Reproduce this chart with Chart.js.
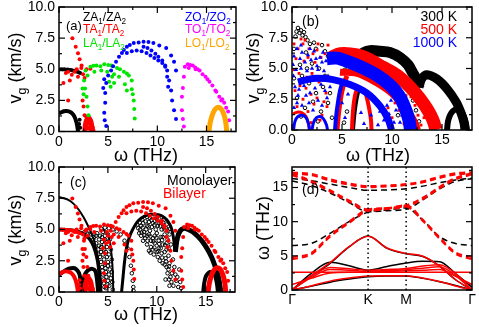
<!DOCTYPE html>
<html><head><meta charset="utf-8">
<script src="https://cdn.jsdelivr.net/npm/chart.js@4"></script>
<style>
html,body{margin:0;padding:0;background:#fff;}
#wrap{position:relative;width:479px;height:327px;overflow:hidden;background:#fff;}
canvas{position:absolute;}
</style></head><body>
<div id="wrap">
<canvas id="ca" width="240" height="170" style="left:0;top:0;width:240px;height:170px"></canvas>
<canvas id="cb" width="239" height="170" style="left:240px;top:0;width:239px;height:170px"></canvas>
<canvas id="cc" width="240" height="167" style="left:0;top:160px;width:240px;height:167px"></canvas>
<canvas id="cd" width="239" height="167" style="left:240px;top:160px;width:239px;height:167px"></canvas>
</div>
<script>
const FONT='"Liberation Sans", Arial, Helvetica, sans-serif';
// ---- tick values / labels ----
const omegaTicks=[0,5,10,15], omegaMinor=[2.5,7.5,12.5,17.5];
const vgTicks=[0,2.5,5,7.5,10], vgMinor=[1.25,3.75,6.25,8.75];
const dispTicks=[0,5,10,15], dispMinor=[2.5,7.5,12.5,17.5];
const kPos=[0,1,1.5,2.366], kLabels=['Γ','K','M','Γ'];
const kPath=[0,0.25,0.5,0.75,1,1.25,1.5,1.72,1.94,2.15,2.366];

// ---- panel (a): bilayer group velocities [omega THz, vg km/s] ----
const zaDome=[[0,1.45],[0.25,1.55],[0.5,1.63],[0.75,1.65],[1.0,1.62],[1.25,1.52],[1.45,1.35],[1.62,1.1],[1.75,0.8],[1.85,0.45],[1.92,0.1],[1.94,0]];
const zaPts=[[0.05,4.98],[0.22,5.0],[0.38,4.97],[0.55,4.99],[0.72,4.96],[0.88,4.97],[1.05,4.93],[1.22,4.94],[1.38,4.9],[1.55,4.88],[1.7,4.84],[1.85,4.8],[2.0,4.75],[2.15,4.7],[2.05,0.6],[2.15,0.3],[2.1,0.95]];
const taPts=[[1.36,7.48],[1.7,6.8],[1.93,6.28],[2.1,5.8],[2.3,5.3],[0.93,4.8],[1.6,4.8],[2.27,5.1],[1.1,4.1],[1.93,4.4],[0.45,3.9],[0.93,2.5],[2.8,5.0],[3.2,5.05],[2.45,4.6],[1.3,4.55],[2.6,4.3],[2.4,2.5],[2.5,2.0],[2.6,1.3],[0.7,4.7],[1.8,5.0]];
const taBlob=[[2.62,0],[2.68,0.5],[2.78,0.85],[2.92,1.05],[3.08,1.05],[3.22,0.85],[3.32,0.5],[3.38,0]];
const taBlobPts=[[2.7,0.2],[2.85,0.35],[3.0,0.25],[3.15,0.4],[3.3,0.15],[2.9,0.65],[3.05,0.7],[3.2,0.2],[3.45,0.3],[3.5,0.1],[2.75,1.2],[3.0,1.25]];
const laPts=[[2.7,4.9],[3.2,5.2],[3.8,5.3],[4.6,5.4],[5.3,5.3],[5.9,5.1],[6.6,4.8],[7.1,4.5],[7.4,4.1],[4.2,5.25],[3.5,5.28],[5.0,5.35],[6.2,5.0],[6.9,4.65],
 [2.9,4.5],[3.6,4.8],[4.3,4.9],[4.9,4.8],[5.6,4.6],[6.1,4.4],[6.7,3.8],[6.9,3.3],
 [7.4,3.4],[7.6,2.5],[7.7,1.05],[7.5,3.0],[7.65,1.8],
 [2.55,4.1],[2.65,3.45],[2.8,2.8],[2.9,2.0],[3.0,1.3],[2.4,3.45],[2.5,3.0],
 [5.4,4.4],[5.6,3.9],[5.25,3.6],[5.1,4.0]];
const zoPts=[[5.3,4.9],[5.8,5.6],[6.4,6.3],[6.9,6.8],[7.6,7.1],[8.1,7.15],[8.6,7.2],[9.1,7.18],[9.6,7.1],[10.2,6.9],[10.9,6.7],[11.4,6.1],[11.7,5.6],[11.9,4.9],[6.1,6.0],[6.6,6.55],[7.2,6.95],[5.5,5.25],
 [6.9,6.3],[7.4,6.45],[7.9,6.5],[8.4,6.45],[8.9,6.3],[9.3,6.1],[9.7,5.9],[10.1,5.7],[10.5,5.5],[10.8,5.2],[11.0,4.9],[11.2,4.1],[11.4,3.3],[11.5,2.5],[11.7,1.7],[11.9,1.0],
 [8.6,6.8],[9.0,6.7],[9.4,6.5],[9.8,6.25],[10.1,6.0],[10.5,5.7],[10.8,5.3],[11.0,4.4],[11.1,3.6],
 [4.8,3.9],[4.7,3.1],[4.7,2.3],[4.6,1.5],[4.8,0.45],[5.0,4.5],[4.6,4.2],[4.5,3.5],[4.65,0.9]];
const toPts=[[12.6,3.5],[12.7,4.4],[12.8,5.2],[13.1,5.4],[13.6,5.3],[14.3,4.9],[14.9,4.4],[15.6,3.7],[16.3,2.8],[16.8,2.3],[17.2,1.6],[17.3,0.9],
 [12.5,2.8],[12.5,1.7],[12.6,1.0],[12.7,0.4],
 [13.2,5.1],[13.9,5.0],[14.6,4.6],[15.3,4.0],[16.0,3.2],[16.6,2.6],[17.0,1.9],
 [13.35,5.35],[13.85,5.15],[14.1,5.0],[15.1,4.2],[15.9,3.3],[16.5,2.5]];
const loDome=[[15.25,0],[15.35,0.6],[15.5,1.1],[15.7,1.55],[15.95,1.85],[16.2,1.95],[16.45,1.85],[16.65,1.6],[16.85,1.15],[16.98,0.6],[17.05,0]];

// ---- panel (b): temperature dependent group velocities ----
const k1000Band1=[[3.5,5.8],[4.5,5.85],[5.8,5.5],[7.1,5.05],[8.5,4.45],[9.8,3.65],[10.7,2.8],[11.3,1.8],[11.7,0.8],[11.85,0]];
const k1000Band2=[[0.6,3.9],[1.5,4.1],[2.5,4.2],[4.1,4.1],[5.8,3.7],[7.5,3.0],[8.8,1.95],[9.6,0.9],[9.95,0]];
const k1000Low1=[[0.15,0],[0.3,0.7],[0.6,1.1],[1.0,1.2],[1.4,1.0],[1.65,0.5],[1.75,0]];
const k1000Low2=[[2.0,0],[2.15,0.6],[2.45,1.0],[2.8,1.1],[3.15,0.9],[3.45,0.4],[3.55,0]];
const k1000Leg=[[4.3,0],[4.4,1.0],[4.55,2.0],[4.75,3.0],[5.0,3.8]];
const k1000Pts=[[0.2,6.0],[0.5,6.6],[0.8,5.8],[1.0,6.3],[1.3,5.5],[1.6,6.1],[1.9,5.7],[2.2,6.4],[2.5,5.2],[2.8,5.9],[3.1,6.3],[3.4,5.6],[0.4,4.9],[0.9,5.0],[1.5,4.8],[2.0,5.0],[2.6,4.9],[3.2,4.8],[0.3,3.5],[0.6,2.8],[1.2,3.6],[1.8,3.0],[2.3,3.4],[2.9,3.7],[3.5,2.6],[0.2,1.8],[0.5,2.2],[3.0,2.0],[3.8,3.5],[8.8,1.5],[9.2,0.8],[9.5,2.0],[10.4,1.6],[10.8,0.6],[9.9,2.4],[7.9,1.2],[8.3,2.5],
 [0.15,4.4],[0.7,3.3],[1.0,2.0],[1.4,2.8],[1.7,2.2],[2.1,1.6],[2.6,2.4],[3.3,3.2],[3.6,4.4],[0.9,6.9],[1.8,6.6],[2.4,5.8],[3.0,5.5],[3.7,6.1],[0.1,5.3],[5.0,2.2],[5.3,1.0],[5.6,2.9],[6.9,1.4],[7.2,0.5],[8.6,0.4],[9.7,1.3],[10.2,0.6],[11.0,1.2]];
const k500Band1=[[3.9,5.9],[4.8,6.2],[6.5,6.1],[7.8,5.7],[9.1,5.1],[10.5,4.45],[11.8,3.5],[12.8,2.55],[13.6,1.6],[14.1,0.8],[14.4,0]];
const k500Band2=[[4.8,4.7],[6.5,4.6],[8.1,4.0],[9.8,3.1],[11.1,2.0],[12.1,0.9],[12.55,0]];
const k500Leg1=[[4.5,0],[4.6,1.0],[4.75,2.0],[4.95,3.0],[5.2,3.8],[5.5,4.4]];
const k500Leg2=[[6.0,0],[6.05,1.0],[6.15,2.0],[6.3,2.8],[6.5,3.4]];
const k500Leg3=[[7.3,3.2],[7.55,2.4],[7.75,1.6],[7.9,0.8],[7.95,0]];
const k500Low=[[0.1,1.3],[0.5,1.45],[1.0,1.4],[1.4,1.1],[1.65,0.5],[1.75,0]];
const k500Pts=[[0.9,7.4],[1.1,7.0],[1.3,7.3],[0.6,6.6],[1.7,6.6],[2.1,6.2],[2.5,6.5],[2.9,5.9],[3.3,6.2],[0.4,5.8],[1.2,5.6],[1.6,5.9],[2.3,5.5],[0.7,4.6],[1.5,4.3],[2.0,4.6],[2.7,3.9],[0.3,3.2],[1.1,2.5],[2.2,2.1],[3.0,1.2],[1.9,0.6],[3.4,3.0],[3.7,4.3],[11.6,1.3],[12.0,0.8],[12.3,2.0],[11.9,2.7],[12.6,1.2],[9.6,1.8],[10.0,1.0],[10.3,2.2],
 [0.2,4.9],[0.8,3.6],[1.4,3.4],[1.9,2.9],[2.5,2.6],[3.2,2.3],[0.5,1.9],[1.6,1.5],[2.8,0.8],[3.5,1.9],[2.6,7.0],[3.6,6.9],[0.2,7.0],[10.7,1.6],[11.2,0.5],[12.9,0.4],[13.2,1.0],[11.4,2.8]];
const k300Band1=[[6.8,6.0],[7.2,6.3],[7.8,6.45],[8.8,6.4],[9.8,6.3],[10.8,5.9],[11.6,5.3],[12.1,4.6],[12.5,4.0],[12.7,3.4]];
const k300Band2=[[12.7,3.5],[13.0,4.2],[13.5,4.5],[14.5,4.15],[15.5,3.35],[16.4,2.3],[16.9,1.4],[17.2,0.6],[17.3,0]];
const k300Small=[[15.5,0],[15.6,0.7],[15.8,1.2],[16.1,1.55],[16.5,1.7],[16.9,1.55],[17.2,1.1],[17.4,0.5],[17.5,0]];
const k300Leg=[[6.1,0],[6.2,1.0],[6.35,2.0],[6.55,2.9],[6.8,3.6]];
const k300Pts=[[0.35,7.6],[0.45,8.0],[0.6,8.3],[0.75,7.9],[0.9,8.1],[1.05,7.7],[1.2,7.95],[1.35,7.55],[1.55,7.3],[1.8,7.0],[2.4,6.6],[3.0,6.9],[3.6,6.0],[2.0,5.4],[2.7,5.0],[1.0,4.4],[1.7,3.8],[2.4,3.0],[3.1,3.5],[0.5,2.6],[1.3,1.8],[2.9,1.5],[3.6,2.2],[4.0,1.0],[11.2,2.5],[11.5,1.5],[11.8,3.2],[12.1,2.4],[12.4,1.6],[12.7,0.7],[12.2,0.3],[11.6,0.6],[13.0,2.8],[12.9,1.9],[10.9,3.0],[11.4,3.6],
 [0.2,6.6],[1.4,6.3],[2.2,7.1],[3.3,6.4],[0.8,5.3],[1.5,5.0],[3.3,4.4],[0.2,4.2],[2.1,2.3],[3.8,3.0],[0.9,1.1],[2.6,0.7],[5.5,1.5],[5.2,0.6],[13.3,2.2],[13.5,1.2],[13.8,0.5],[12.6,2.9],[11.0,2.0],[10.6,1.2],[10.4,2.6],
 [5.3,4.9],[5.7,5.2],[6.1,4.8],[5.9,5.4]];

// ---- panel (c): monolayer (black) vs bilayer (red = panel a) ----
const monoArc75=[[0,7.6],[0.5,7.5],[1.0,7.35],[1.5,7.05],[2.0,6.6],[2.5,6.0],[2.9,5.4],[3.3,4.7],[3.6,4.1],[3.85,3.3],[4.05,2.4],[4.2,1.5],[4.3,0.6],[4.33,0]];
const monoArc5=[[0,5.0],[0.5,5.0],[1.0,4.97],[1.5,4.92],[2.0,4.82],[2.5,4.65],[3.0,4.35],[3.4,3.9],[3.7,3.3],[3.95,2.5],[4.1,1.6],[4.2,0.6],[4.25,0]];
const monoLensEdge=[[4.5,5.0],[5.0,4.6],[5.25,3.8],[5.4,2.8],[5.5,1.6],[5.55,0]];
const monoLens=[[3.3,4.6],[3.6,4.4],[3.9,4.7],[4.2,4.5],[4.5,4.8],[3.8,3.9],[4.1,3.7],[4.4,4.0],[4.7,4.2],[4.0,3.0],[4.3,3.2],[4.6,3.4],[4.9,3.6],[4.3,2.4],[4.6,2.6],[4.9,2.8],[4.45,1.7],[4.75,1.9],[5.0,2.1],[4.55,1.0],[4.85,1.2],[5.1,1.4],[4.65,0.4],[4.95,0.6],[5.15,0.5],[2.6,4.8],[2.9,4.6],[3.1,4.9],[5.0,4.6],[5.2,4.2],[5.3,3.4],[5.4,2.6],[5.4,1.6],[5.45,0.8],[5.5,0.2],
 [3.5,4.2],[3.8,4.5],[4.1,4.2],[4.4,4.4],[4.7,4.5],[4.0,3.4],[4.3,3.6],[4.6,3.8],[4.9,4.0],[4.2,2.8],[4.5,3.0],[4.8,3.2],[5.1,3.0],[4.4,2.0],[4.7,2.2],[5.0,2.4],[5.2,1.8],[4.5,1.4],[4.8,1.6],[5.0,0.9],[4.6,0.7],[4.8,0.3],[5.3,1.1],[5.3,2.2]];
const monoArc4=[[4.3,5.1],[4.7,5.15],[5.1,5.1],[5.5,5.0],[5.9,4.85],[6.3,4.6],[6.7,4.1],[7.0,3.5],[7.2,2.8],[7.35,2.1],[7.45,1.5],[7.55,0.9],[7.6,0.4],[7.62,0.1]];
const monoDome=[[6.4,0],[6.55,1.2],[6.7,2.4],[6.9,3.5],[7.2,4.4],[7.6,5.1],[8.1,5.7],[8.7,6.05],[9.3,6.2],[9.9,6.2],[10.5,6.1],[11.0,5.8],[11.4,5.3],[11.6,4.8],[11.75,4.1],[11.85,3.3]];
const monoHatch=[[8.0,5.4],[8.3,5.0],[8.6,5.5],[8.9,5.0],[9.2,5.6],[9.5,5.2],[9.8,5.7],[10.1,5.3],[10.4,5.6],[10.7,5.2],[11.0,5.4],[8.4,4.5],[8.8,4.3],[9.2,4.6],[9.6,4.3],[10.0,4.7],[10.4,4.4],[10.8,4.6],[11.1,4.2],[9.0,3.8],[9.4,3.6],[9.8,3.9],[10.2,3.5],[10.6,3.8],[11.0,3.4],[9.7,3.0],[10.1,2.8],[10.5,3.1],[10.9,2.7],[11.2,2.9],[10.6,2.3],[11.0,2.0],[11.3,2.3],[11.1,1.5],[11.4,1.2],[11.5,0.8],[11.7,0.5],[11.9,1.4],[12.0,0.9],[12.2,0.4],[12.3,1.8],[12.5,0.3],[8.5,5.8],[9.0,6.0],[10.0,6.0],[10.8,5.8],[8.2,4.7],[9.3,5.9],[10.5,6.0],
 [8.1,5.1],[8.4,5.3],[8.7,4.8],[9.0,5.3],[9.3,4.9],[9.6,5.5],[9.9,5.0],[10.2,5.5],[10.5,5.0],[10.8,5.0],[11.1,4.9],[8.6,4.1],[9.0,4.5],[9.4,4.1],[9.8,4.5],[10.2,4.1],[10.6,4.4],[11.0,3.9],[9.2,3.3],[9.6,3.4],[10.0,3.2],[10.4,3.5],[10.8,3.2],[11.2,3.5],[10.3,2.5],[10.8,2.2],[11.2,1.8],[10.9,1.0],[11.3,0.5],[12.1,1.2],[12.4,0.8],[11.8,2.0],
 [8.25,5.55],[8.55,5.15],[8.85,5.65],[9.15,5.25],[9.45,5.75],[9.75,5.35],[10.05,5.75],[10.35,5.25],[10.65,5.55],[10.95,5.1],[8.45,4.75],[8.75,4.55],[9.05,4.1],[9.35,4.45],[9.65,4.05],[9.95,4.35],[10.25,3.85],[10.55,4.15],[10.85,3.75],[9.35,3.15],[9.75,3.55],[10.15,3.25],[10.55,2.75],[10.95,2.45],[11.25,2.05],[11.25,1.0],[11.55,1.5],[11.65,2.6],[11.45,3.8],[11.3,4.6],[11.35,5.05]];
const monoRight=[[11.9,3.2],[12.1,4.3],[12.4,4.9],[12.8,5.1],[13.2,5.0],[13.7,4.8],[14.2,4.45],[14.7,4.0],[15.2,3.4],[15.6,2.8],[15.9,2.2],[16.2,1.5],[16.4,0.8],[16.55,0]];
const monoSmall=[[14.75,0],[14.85,0.7],[15.0,1.2],[15.2,1.45],[15.45,1.6],[15.7,1.55],[15.95,1.3],[16.1,0.9],[16.2,0.4],[16.25,0]];
const monoLow1=[[0,1.4],[0.4,1.6],[0.8,1.8],[1.2,1.9],[1.6,1.9],[1.9,1.7],[2.1,1.4],[2.2,0.9],[2.25,0.3],[2.27,0]];
const monoLow2=[[2.45,0],[2.5,0.8],[2.6,1.3],[2.8,1.6],[3.1,1.8],[3.4,1.85],[3.7,1.7],[3.85,1.2],[3.95,0.5],[4.0,0]];

// ---- panel (d): dispersion along Γ-K-M-Γ (values at kPath) ----
const mA1=[0,0.55,1.15,1.6,1.95,2.05,2.05,1.7,1.2,0.65,0];
const mA2=[0,2.4,4.05,3.55,2.9,3.45,3.95,4.2,4.15,2.4,0.4];
const mA3=[0,2.0,3.9,6.3,7.9,6.1,5.3,4.9,3.5,1.5,0];
const mO1=[16.3,16.0,15.5,15.0,14.6,14.65,14.8,15.2,15.7,16.1,16.35];
const mO2=[15.95,15.3,14.2,12.8,11.45,11.6,11.8,13.2,14.8,15.9,16.3];
const mO3=[6.5,6.8,8.3,10.0,11.4,11.7,12.0,10.2,7.8,6.8,6.5];
const bA1=[0,2.1,4.0,6.35,7.85,6.15,5.35,4.95,3.5,1.5,0];
const bFlat=[2.6,2.6,2.6,2.6,2.6,2.6,2.6,2.6,2.6,2.6,2.6];
const bA3=[0,2.0,3.3,3.1,2.9,3.0,3.15,3.5,3.7,2.4,0];
const bA4=[0,1.8,3.0,2.9,2.75,2.85,2.95,3.2,3.4,2.1,0];
const bA5=[0.8,1.7,2.5,2.6,2.6,2.7,2.8,2.9,3.0,2.0,0.8];
const bA6=[0,0.6,1.3,1.75,2.05,2.1,2.1,1.75,1.25,0.6,0];
const bO1=[17.2,17.0,16.2,15.6,15.2,15.3,15.5,15.9,16.6,17.1,17.25];
const bO2=[17.0,16.8,16.0,15.4,15.05,15.15,15.35,15.75,16.4,16.9,17.05];
const bO3=[17.0,16.0,14.6,13.1,11.8,12.0,12.4,13.5,15.1,16.4,17.1];
const bO4=[16.8,15.8,14.4,12.9,11.6,11.85,12.2,13.3,14.9,16.2,16.9];
const bO5=[4.8,5.4,8.0,10.0,11.8,12.0,12.4,10.3,7.7,5.5,4.8];
const bO6=[4.5,5.2,7.8,9.8,11.6,11.9,12.2,10.1,7.5,5.3,4.5];
const dotLineK=[[1,0],[1,18]], dotLineM=[[1.5,0],[1.5,18]];

// ---- helpers ----
const xy=a=>a.map(p=>({x:p[0],y:p[1]}));
const dots=(a,c,o)=>Object.assign({data:xy(a),showLine:false,pointRadius:2,pointBackgroundColor:c,pointBorderColor:c,pointBorderWidth:0},o||{});
const hollow=a=>dots(a,'#000',{pointBackgroundColor:'rgba(0,0,0,0)',pointBorderWidth:1,pointRadius:1.8});
const band=(a,c,w)=>({data:xy(a),showLine:true,borderColor:c,borderWidth:w,pointRadius:0,tension:0.35,borderCapStyle:'butt',borderJoinStyle:'round',clip:0});
const disp=(vals,c,dash,w)=>({data:kPath.map((k,i)=>({x:k,y:vals[i]})),showLine:true,borderColor:c,borderWidth:w||1.5,borderDash:dash||[],pointRadius:0,cubicInterpolationMode:'monotone',clip:0});

function richParts(s){const parts=[];let buf='';for(let i=0;i<s.length;i++){if(s[i]==='_'){if(buf)parts.push([buf,0]);buf='';parts.push([s[i+1],1]);i++;}else buf+=s[i];}if(buf)parts.push([buf,0]);return parts;}
function drawRich(ctx,t){
  const parts=richParts(t.text),fs=t.size||14,ss=fs*0.68;
  ctx.save();ctx.translate(t.x,t.y);if(t.rot)ctx.rotate(t.rot);
  ctx.fillStyle=t.color||'#000';ctx.textBaseline='alphabetic';ctx.textAlign='left';
  let w=0;parts.forEach(([s,sub])=>{ctx.font=(sub?ss:fs)+'px '+FONT;w+=ctx.measureText(s).width;});
  let x=t.align==='center'?-w/2:t.align==='right'?-w:0;
  parts.forEach(([s,sub])=>{ctx.font=(sub?ss:fs)+'px '+FONT;ctx.fillText(s,x,sub?fs*0.28:0);x+=ctx.measureText(s).width;});
  ctx.restore();
}
const decor={id:'decor',afterDatasetsDraw(chart,args,o){
  const {ctx,chartArea:a,scales:{x,y}}=chart;ctx.save();ctx.strokeStyle='#000';ctx.lineWidth=1.2;
  const seg=(x1,y1,x2,y2)=>{ctx.beginPath();ctx.moveTo(x1,y1);ctx.lineTo(x2,y2);ctx.stroke();};
  const xt=(arr,L)=>(arr||[]).forEach(v=>{const p=x.getPixelForValue(v);seg(p,a.bottom,p,a.bottom-L);seg(p,a.top,p,a.top+L);});
  const yt=(arr,L)=>(arr||[]).forEach(v=>{const p=y.getPixelForValue(v);seg(a.left,p,a.left+L,p);seg(a.right,p,a.right-L,p);});
  xt(o.xMaj,6);xt(o.xMin,3);yt(o.yMaj,6);yt(o.yMin,3);
  ctx.lineWidth=1.5;ctx.strokeRect(a.left,a.top,a.right-a.left,a.bottom-a.top);
  (o.texts||[]).forEach(t=>drawRich(ctx,t));ctx.restore();
}};
function makeChart(id,c){
  const fixAxis=(s,w,h)=>{if(w!=null)s.width=w;if(h!=null)s.height=h;s.paddingLeft=0;s.paddingRight=0;s.paddingTop=0;s.paddingBottom=0;};
  return new Chart(document.getElementById(id),{type:'scatter',data:{datasets:c.datasets},
    options:{responsive:false,animation:false,devicePixelRatio:1,events:[],layout:{padding:c.pad},
      plugins:{legend:{display:false},tooltip:{enabled:false},decor:c.decor},
      scales:{
        x:{type:'linear',min:c.xr[0],max:c.xr[1],afterBuildTicks:s=>{s.ticks=c.xt.map(v=>({value:v}));},afterFit:s=>fixAxis(s,null,c.xh),
          grid:{display:false,drawTicks:false},border:{display:false},
          ticks:{color:'#000',font:{family:FONT,size:14},padding:2,autoSkip:false,maxRotation:0,callback:c.xf}},
        y:{type:'linear',min:c.yr[0],max:c.yr[1],afterBuildTicks:s=>{s.ticks=c.yt.map(v=>({value:v}));},afterFit:s=>fixAxis(s,c.yw,null),
          grid:{display:false,drawTicks:false},border:{display:false},
          ticks:{color:'#000',font:{family:FONT,size:14},padding:4,autoSkip:false,callback:c.yf}}}},
    plugins:[decor]});
}
const fmt0=v=>String(v), fmt1=v=>v.toFixed(1);
const RED='#ff0000',GRN='#00e600',BLU='#0000ff',MAG='#ff00ff',ORG='#ffa500';
const VG='v_g (km/s)', OM='ω (THz)';

// panel a
makeChart('ca',{pad:{top:7,right:1,left:0,bottom:10},xr:[0,18],yr:[0,10],xt:omegaTicks,yt:vgTicks,xf:fmt0,yf:fmt1,xh:28.5,yw:59,
  datasets:[band(loDome,ORG,5),dots(toPts,MAG),dots(zoPts,BLU),dots(laPts,GRN),band(taBlob,RED,5),dots(taBlobPts,RED),dots(taPts,RED),band(zaDome,'#000',4),dots(zaPts,'#000')],
  decor:{xMaj:omegaTicks,xMin:omegaMinor,yMaj:vgTicks,yMin:vgMinor,texts:[
    {text:'(a)',x:66,y:30,size:13},{text:'ZA_1/ZA_2',x:83,y:21,size:12},{text:'TA_1/TA_2',x:83,y:33,size:12,color:RED},{text:'LA_1/LA_2',x:83,y:47,size:12,color:GRN},
    {text:'ZO_1/ZO_2',x:185,y:21,size:12,color:BLU},{text:'TO_1/TO_2',x:185,y:33,size:12,color:MAG},{text:'LO_1/LO_2',x:185,y:47,size:12,color:ORG},
    {text:OM,x:146,y:161,align:'center',size:18},{text:VG,x:21,y:68,align:'center',size:18,rot:-Math.PI/2}]}});

// panel b
const tri={pointStyle:'triangle',pointRadius:2.5},sq={pointStyle:'rect',pointRadius:2};
makeChart('cb',{pad:{top:7,right:7,left:0,bottom:10},xr:[0,18],yr:[0,10],xt:omegaTicks,yt:vgTicks,xf:fmt0,yf:fmt1,xh:30,yw:52,
  datasets:[dots(k1000Pts,BLU,tri),band(k1000Band1,BLU,13),band(k1000Band2,BLU,7),band(k1000Low1,BLU,3),band(k1000Low2,BLU,3),band(k1000Leg,BLU,4),
    dots(k500Pts,RED,sq),band(k500Band1,RED,13),band(k500Band2,RED,7),band(k500Leg1,RED,5),band(k500Leg2,RED,4),band(k500Leg3,RED,4),band(k500Low,RED,3),
    hollow(k300Pts),band(k300Band1,'#000',11),band(k300Band2,'#000',9),band(k300Small,'#000',6),band(k300Leg,'#000',4)],
  decor:{xMaj:omegaTicks,xMin:omegaMinor,yMaj:vgTicks,yMin:vgMinor,texts:[
    {text:'(b)',x:62,y:26},{text:'300 K',x:217,y:21,align:'right'},{text:'500 K',x:217,y:34,align:'right',color:RED},{text:'1000 K',x:217,y:47,align:'right',color:BLU},
    {text:OM,x:138,y:161,align:'center',size:18},{text:VG,x:19,y:68,align:'center',size:18,rot:-Math.PI/2}]}});

// panel c
makeChart('cc',{pad:{top:7,right:1,left:0,bottom:0},xr:[0,18],yr:[0,10],xt:omegaTicks,yt:vgTicks,xf:fmt0,yf:fmt1,xh:35,yw:59,
  datasets:[band(loDome,RED,5),dots(toPts,RED),dots(zoPts,RED),dots(laPts,RED),band(taBlob,RED,5),dots(taBlobPts,RED),dots(taPts,RED),band(zaDome,RED,4),dots(zaPts,RED),
    band(monoArc75,'#000',2),band(monoArc5,'#000',3.5),band(monoLensEdge,'#000',2),hollow(monoLens),hollow(monoArc4),band(monoDome,'#000',3),hollow(monoHatch),
    band(monoRight,'#000',5),band(monoSmall,'#000',4),band(monoLow1,'#000',4),band(monoLow2,'#000',4)],
  decor:{xMaj:omegaTicks,xMin:omegaMinor,yMaj:vgTicks,yMin:vgMinor,texts:[
    {text:'(c)',x:70,y:27},{text:'Monolayer',x:167,y:24.5},{text:'Bilayer',x:163,y:37.5,color:RED},
    {text:OM,x:146,y:160,align:'center',size:18},{text:VG,x:21,y:70,align:'center',size:18,rot:-Math.PI/2}]}});

// panel d
const dash=[6,4];
makeChart('cd',{pad:{top:7,right:7,left:0,bottom:0},xr:[0,2.366],yr:[0,18],xt:kPos,yt:dispTicks,xf:(v,i)=>kLabels[i],yf:fmt0,xh:37,yw:52,
  datasets:[
    {data:xy(dotLineK),showLine:true,borderColor:'#000',borderWidth:1.5,borderDash:[1.5,3],pointRadius:0},
    {data:xy(dotLineM),showLine:true,borderColor:'#000',borderWidth:1.5,borderDash:[1.5,3],pointRadius:0},
    disp(bA1,RED),disp(bFlat,RED),disp(bA3,RED),disp(bA4,RED),disp(bA5,RED),disp(bA6,RED),
    disp(bO1,RED,dash,2),disp(bO2,RED,dash,2),disp(bO3,RED,dash,2),disp(bO4,RED,dash,2),disp(bO5,RED,dash,2),disp(bO6,RED,dash,2),
    disp(mA1,'#000'),disp(mA2,'#000'),disp(mA3,'#000'),
    disp(mO1,'#000',dash),disp(mO2,'#000',dash),disp(mO3,'#000',dash)],
  decor:{yMaj:dispTicks,yMin:dispMinor,texts:[
    {text:'(d)',x:62,y:34},{text:OM,x:29,y:68,align:'center',size:18,rot:-Math.PI/2}]}});
</script>
</body></html>
